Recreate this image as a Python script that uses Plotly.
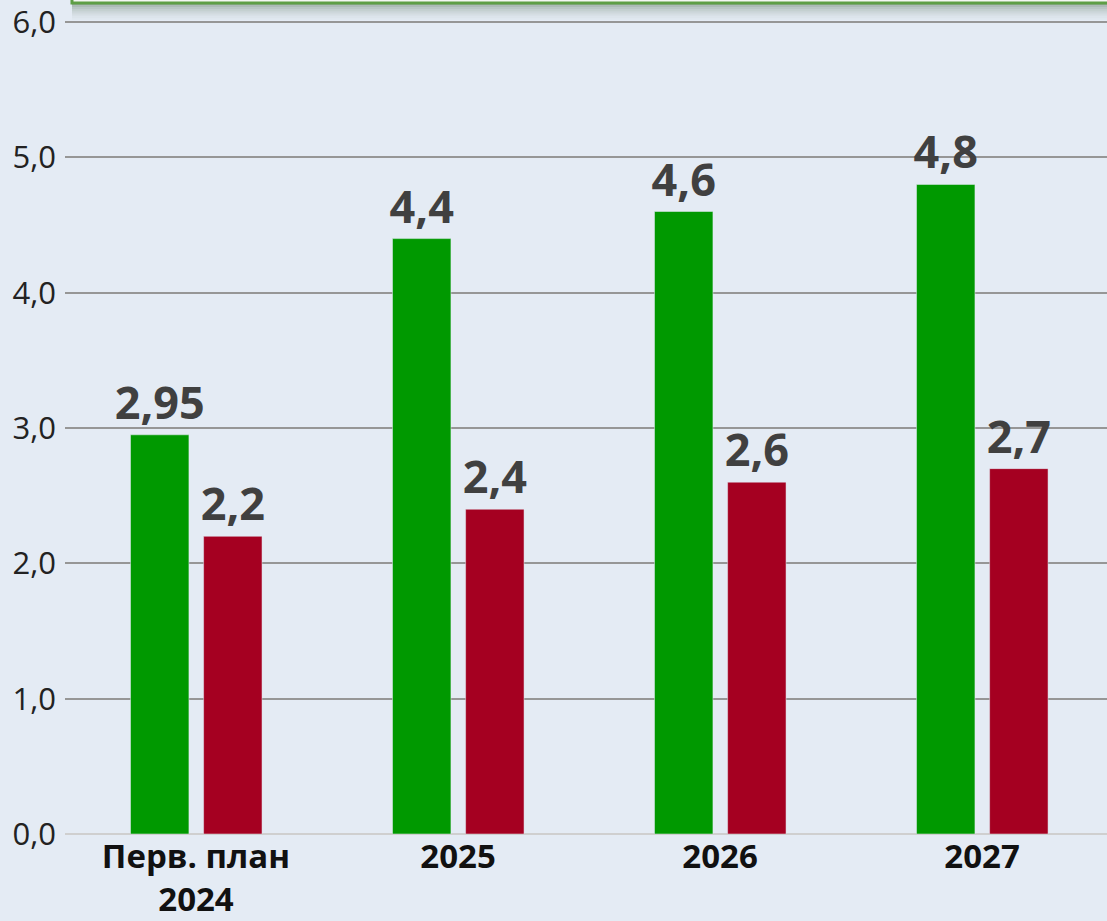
import plotly.graph_objects as go

categories = ['Перв. план<br>2024', '2025', '2026', '2027']
green_values = [2.95, 4.4, 4.6, 4.8]
red_values = [2.2, 2.4, 2.6, 2.7]
y_ticks = [0, 1, 2, 3, 4, 5, 6]

def fmt(v):
    return f"{v:g}".replace('.', ',')

FONT = 'Open Sans'
BG = '#E4EBF4'

fig = go.Figure()
fig.add_trace(go.Bar(
    x=categories, y=green_values, marker_color='#009900', width=0.223, offset=-0.25,
    text=[fmt(v) for v in green_values], textposition='outside', cliponaxis=False,
    constraintext='none',
    textfont=dict(family=FONT, size=45, color='#404040', weight='bold'),
))
fig.add_trace(go.Bar(
    x=categories, y=red_values, marker_color='#A50021', width=0.223, offset=0.029,
    text=[fmt(v) for v in red_values], textposition='outside', cliponaxis=False,
    constraintext='none',
    textfont=dict(family=FONT, size=45, color='#404040', weight='bold'),
))

# верхняя рамка (обрезанная) с тенью
PH = 816
for i, op in enumerate([0.55, 0.42, 0.32, 0.24, 0.17, 0.11, 0.06, 0.03]):
    y0 = 1 + 15 / PH - (i + 1) * 2.1 / PH
    fig.add_shape(type='rect', xref='paper', yref='paper', x0=0.0067, x1=1.01,
                  y0=y0, y1=y0 + 2.1 / PH, line_width=0,
                  fillcolor=f'rgba(95,120,95,{op})', layer='below')
fig.add_shape(type='rect', xref='paper', yref='paper', x0=0.0067, x1=1.01,
              y0=1 + 15 / PH, y1=1.05, line=dict(color='#5E9E45', width=3),
              fillcolor='#F4F6F2')

fig.update_layout(
    width=1107, height=921,
    margin=dict(l=65, r=0, t=18, b=87),
    paper_bgcolor=BG, plot_bgcolor=BG,
    showlegend=False, separators=', ',
    barmode='group',
    xaxis=dict(range=[-0.5, 3.477], showgrid=False, zeroline=False, showline=False,
               tickfont=dict(family=FONT, size=33, color='#111111', weight='bold'),
               ticks='', ticklabelstandoff=0, automargin=False),
    yaxis=dict(range=[0, 6.03], tickvals=y_ticks, tickformat='.1f', showgrid=True,
               gridcolor='#969696', gridwidth=2, zeroline=True, zerolinecolor='#CFCFCF',
               zerolinewidth=2, tickfont=dict(family=FONT, size=31, color='#222222'),
               ticks='', ticklabelstandoff=8, automargin=False, ticklabeloverflow='allow'),
)

fig.write_html("out.html", config={'displayModeBar': False},
               post_script="document.body.style.margin='0';")
